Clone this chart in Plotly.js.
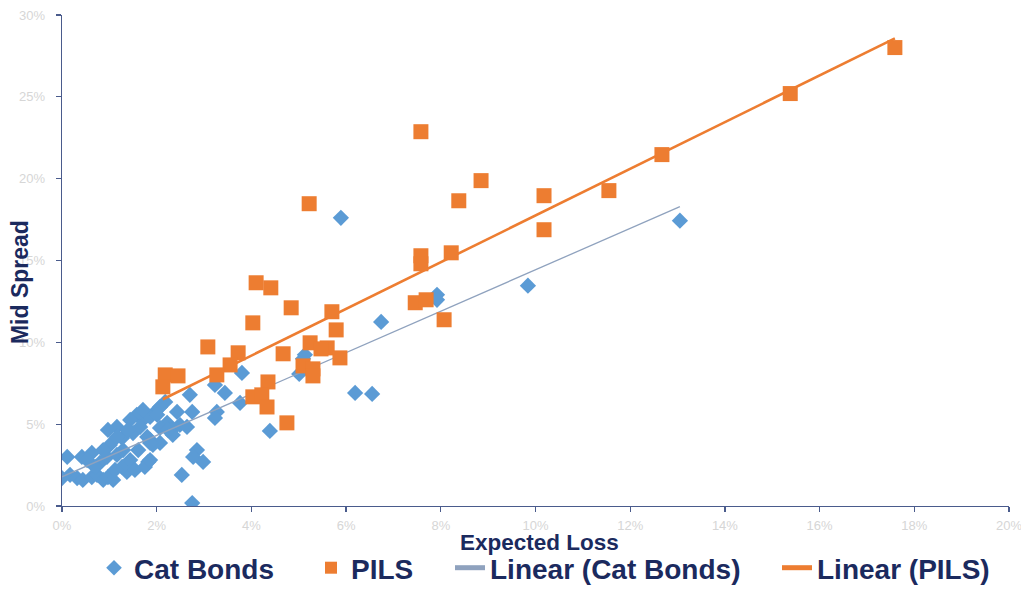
<!DOCTYPE html>
<html>
<head>
<meta charset="utf-8">
<script src="https://cdn.plot.ly/plotly-3.0.1.min.js"></script>
<style>html,body{margin:0;padding:0;background:#fff;}#chart{width:1021px;height:610px;}</style>
</head>
<body>
<div id="chart"></div>
<script>
// Expected Loss (%) and Mid Spread (%)
const catX = [13.05,9.84,7.92,7.92,6.74,5.89,5.09,5.01,5.13,6.19,6.55,4.39,2.70,3.80,3.44,3.76,3.27,3.23,2.75,2.43,2.18,2.01,1.75,2.22,2.49,2.64,2.32,2.07,2.34,1.86,2.07,1.92,2.85,2.77,2.98,1.82,1.75,2.53,2.75,0.11,0.42,0.97,1.16,1.58,1.44,1.86,2.07,2.01,1.80,1.86,2.24,1.86,1.37,1.27,0.00,0.17,0.32,0.44,0.63,0.74,0.87,0.97,1.08,0.80,0.63,0.95,1.16,1.29,1.01,1.27,1.50,1.65,1.16,0.87,0.53,0.70,1.44,1.61,1.54,1.12,3.23,1.71,1.39];
const catY = [17.43,13.46,12.90,12.60,11.25,17.61,8.99,8.07,9.24,6.91,6.85,4.59,6.79,8.13,6.91,6.30,5.75,5.38,5.75,5.75,6.36,5.87,5.38,5.08,4.95,4.83,4.65,4.77,4.34,4.04,3.85,3.73,3.42,3.00,2.69,2.69,2.39,1.90,0.18,3.00,3.00,4.65,4.83,5.57,5.26,5.44,6.05,5.57,4.22,3.85,4.65,2.81,2.08,2.39,1.71,1.90,1.71,1.59,1.77,1.90,1.59,1.77,1.59,2.63,3.24,3.00,3.12,3.42,3.73,4.16,4.46,4.83,4.22,3.42,2.81,2.39,2.81,3.42,2.20,2.20,7.40,5.87,4.65];
const pilsX = [17.59,15.38,12.67,11.55,10.18,10.18,8.85,8.38,7.58,8.22,7.58,7.58,7.46,7.69,8.07,5.22,4.10,4.41,4.84,4.03,5.70,5.79,3.08,4.67,5.24,3.72,3.55,3.27,5.60,5.87,5.09,5.30,5.30,4.35,4.03,4.22,4.33,4.75,2.18,2.45,2.13,5.47];
const pilsY = [28.01,25.20,21.47,19.27,18.96,16.88,19.88,18.65,22.87,15.47,15.29,14.80,12.42,12.60,11.38,18.47,13.64,13.33,12.11,11.19,11.87,10.76,9.72,9.30,9.97,9.36,8.62,8.01,9.66,9.05,8.56,8.38,7.95,7.58,6.67,6.79,6.05,5.08,8.01,7.95,7.28,9.60];

const seriesNames = ['Cat Bonds','PILS','Linear (Cat Bonds)','Linear (PILS)'];
const xTickVals = [0,2,4,6,8,10,12,14,16,18,20];
const yTickVals = [0,5,10,15,20,25,30];
const xTitle = 'Expected Loss';
const yTitle = 'Mid Spread';

// least-squares linear trend over the range of the data (as Excel does)
function linearTrend(xs, ys){
  const n = xs.length;
  let sx=0, sy=0, sxx=0, sxy=0;
  for(let i=0;i<n;i++){sx+=xs[i];sy+=ys[i];sxx+=xs[i]*xs[i];sxy+=xs[i]*ys[i];}
  const b = (n*sxy - sx*sy)/(n*sxx - sx*sx);
  const a = (sy - b*sx)/n;
  const x0 = Math.min(...xs), x1 = Math.max(...xs);
  return {x:[x0,x1], y:[a+b*x0, a+b*x1]};
}
const catTrend = linearTrend(catX, catY);
const pilsTrend = linearTrend(pilsX, pilsY);

const navy = '#1B2A5E';
const FONT = 'Liberation Sans, Arial, sans-serif';
const legendFont = {family:FONT, size:28, color:navy, weight:'bold'};

const traces = [
  {x:catX, y:catY, name:seriesNames[0], type:'scatter', mode:'markers', legend:'legend',
   marker:{symbol:'diamond', size:12.5, color:'#5B9BD5', line:{width:0}}},
  {x:catTrend.x, y:catTrend.y, name:seriesNames[2], type:'scatter', mode:'lines', legend:'legend3',
   line:{color:'#8FA2BE', width:1.3}},
  {x:pilsTrend.x, y:pilsTrend.y, name:seriesNames[3], type:'scatter', mode:'lines', legend:'legend4',
   line:{color:'#ED7D31', width:2.6}},
  {x:pilsX, y:pilsY, name:seriesNames[1], type:'scatter', mode:'markers', legend:'legend2',
   marker:{symbol:'square', size:15, color:'#ED7D31', line:{width:0}}}
];

function legendAt(px){
  return {orientation:'h', x:(px-62)/947, xanchor:'left', y:(506-568)/491, yanchor:'middle',
          font:legendFont, itemsizing:'constant', bgcolor:'rgba(0,0,0,0)'};
}

const axisCommon = {
  showgrid:false, zeroline:false, showline:true, linecolor:'#4A5B8C', linewidth:1.3,
  ticks:'outside', ticklen:5, tickwidth:1.3, tickcolor:'#4A5B8C', tickmode:'array',
  ticklabeloverflow:'allow',
  tickfont:{family:FONT, size:13, color:'#D6D6D6'}
};

const layout = {
  width:1021, height:610,
  margin:{l:62, r:12, t:15, b:104},
  paper_bgcolor:'#ffffff', plot_bgcolor:'#ffffff',
  showlegend:true,
  legend:legendAt(94),
  legend2:legendAt(311),
  legend3:legendAt(450),
  legend4:legendAt(777),
  xaxis:Object.assign({}, axisCommon, {range:[0,20.0001], tickvals:xTickVals,
     ticktext:xTickVals.map(v=>v+'%'), ticklabelstandoff:2, title:{text:''}}),
  yaxis:Object.assign({}, axisCommon, {range:[0,30.0001], tickvals:yTickVals,
     ticktext:yTickVals.map(v=>v+'%'), ticklabelstandoff:8, title:{text:''}}),
  annotations:[
    {text:xTitle, xref:'paper', yref:'paper', x:(539-62)/947, y:(506-542.5)/491, xanchor:'center', yanchor:'middle',
     showarrow:false, borderpad:0, font:{family:FONT, size:22.5, color:navy, weight:'bold'}},
    {text:yTitle, xref:'paper', yref:'paper', x:-0.0444, y:0.456, xanchor:'center', yanchor:'middle',
     textangle:-90, showarrow:false, font:{family:FONT, size:23, color:navy, weight:'bold'}}
  ]
};

Plotly.newPlot('chart', traces, layout, {displayModeBar:false, staticPlot:true});
</script>
</body>
</html>
